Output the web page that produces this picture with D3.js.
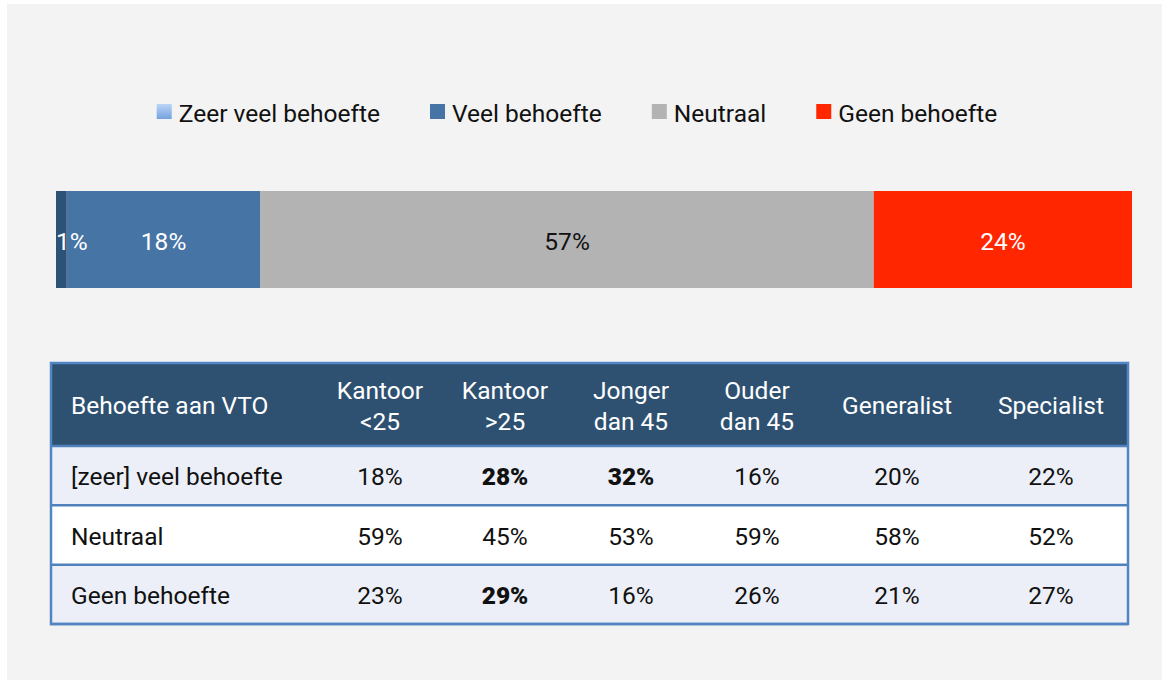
<!DOCTYPE html>
<html>
<head>
<meta charset="utf-8">
<script src="https://cdn.jsdelivr.net/npm/d3@7"></script>
<style>
  body { margin: 0; background: #fff; }
  svg text { font-family: Roboto, "Noto Sans", sans-serif; }
</style>
</head>
<body>
<div class="vtoChart"></div>
<script>
// categories for legend + stacked bar
const categories = ["Zeer veel behoefte", "Veel behoefte", "Neutraal", "Geen behoefte"];
const totals = [1, 18, 57, 24];

// table data
const columns = [["Kantoor", "<25"], ["Kantoor", ">25"], ["Jonger", "dan 45"], ["Ouder", "dan 45"], ["Generalist"], ["Specialist"]];
const rowLabels = ["[zeer] veel behoefte", "Neutraal", "Geen behoefte"];
const veelValues = [18, 28, 32, 16, 20, 22];
const neutraalValues = [59, 45, 53, 59, 58, 52];
const geenValues = [23, 29, 16, 26, 21, 27];
// [row, column] of the bold cells
const boldCells = [[0, 1], [0, 2], [2, 1]];

class VtoChart {

    constructor(selector) {
        this.selector = selector;
        this.width = 1162;
        this.height = 680;
    }

    draw() {
        this.svg = d3.select(this.selector)
            .append("svg")
            .attr("width", this.width)
            .attr("height", this.height);

        // grey panel
        this.svg.append("rect")
            .attr("x", 7).attr("y", 4)
            .attr("width", this.width - 7).attr("height", this.height - 4)
            .attr("fill", "#f3f3f3");

        this.drawLegend();
        this.drawBar();
        this.drawTable();
    }

    drawLegend() {
        const defs = this.svg.append("defs");
        const grad = defs.append("linearGradient")
            .attr("id", "zeerGrad")
            .attr("x1", 0).attr("y1", 0).attr("x2", 0).attr("y2", 1);
        grad.append("stop").attr("offset", "0%").attr("stop-color", "#bad4f6");
        grad.append("stop").attr("offset", "100%").attr("stop-color", "#74a3e0");

        const swatch = ["url(#zeerGrad)", "#4674a4", "#b3b3b3", "#ff2600"];
        const legend = this.svg.append("g");

        let xPos = 0;
        categories.forEach((c, i) => {
            const g = legend.append("g").attr("transform", `translate(${xPos},0)`);
            g.append("rect")
                .attr("x", 0).attr("y", 104)
                .attr("width", 15).attr("height", 15)
                .attr("fill", swatch[i]);
            const t = g.append("text")
                .attr("x", 22).attr("y", 113)
                .attr("dy", "0.36em")
                .attr("font-size", 24.5)
                .attr("fill", "#111")
                .text(c);
            xPos += 22 + t.node().getComputedTextLength() + 50;
        });
        const total = xPos - 50;
        legend.attr("transform", `translate(${577 - total / 2},0)`);
    }

    drawBar() {
        const x = d3.scaleLinear().domain([0, 100]).range([56, 1132]);
        const fills = ["#2e5276", "#4674a4", "#b3b3b3", "#ff2600"];
        const labelColors = ["#fff", "#fff", "#111", "#fff"];

        // cumulative starts
        const starts = [];
        let acc = 0;
        for (let v of totals) { starts.push(acc); acc += v; }

        const bar = this.svg.append("g");
        bar.selectAll("rect")
            .data(totals)
            .join("rect")
            .attr("x", (d, i) => x(starts[i]))
            .attr("y", 191)
            .attr("width", d => x(d) - x(0))
            .attr("height", 97)
            .attr("fill", (d, i) => fills[i]);

        bar.selectAll("text")
            .data(totals)
            .join("text")
            // tiny segment: excel pushes the label right
            .attr("x", (d, i) => d < 3 ? x(starts[i]) : x(starts[i] + d / 2))
            .attr("text-anchor", d => d < 3 ? "start" : "middle")
            .attr("y", 241)
            .attr("dy", "0.36em")
            .attr("font-size", 24.5)
            .attr("fill", (d, i) => labelColors[i])
            .text(d => d + "%");
    }

    drawTable() {
        const colWidths = [268, 124, 126, 126, 126, 154, 154];
        const edges = d3.cumsum([50].concat(colWidths));
        const colX = d3.scaleOrdinal()
            .domain(d3.range(colWidths.length))
            .range(colWidths.map((w, i) => edges[i] + w / 2));

        const left = edges[0], right = edges[edges.length - 1];
        const headTop = 363, headBottom = 446;
        const rowY = d3.scaleLinear().domain([0, rowLabels.length]).range([headBottom, 624]);
        const rows = [veelValues, neutraalValues, geenValues];
        const fs = 24.5;

        const table = this.svg.append("g");

        // header
        table.append("rect")
            .attr("x", left).attr("y", headTop)
            .attr("width", right - left).attr("height", headBottom - headTop)
            .attr("fill", "#2e5172");

        // body rows
        table.selectAll(".rowBg")
            .data(rowLabels)
            .join("rect")
            .attr("class", "rowBg")
            .attr("x", left).attr("y", (d, i) => rowY(i))
            .attr("width", right - left)
            .attr("height", (d, i) => rowY(i + 1) - rowY(i))
            .attr("fill", (d, i) => i % 2 === 0 ? "#eceff7" : "#ffffff");

        // row separators
        table.selectAll(".sep")
            .data(d3.range(rowLabels.length + 1))
            .join("line")
            .attr("class", "sep")
            .attr("x1", left).attr("x2", right)
            .attr("y1", d => rowY(d)).attr("y2", d => rowY(d))
            .attr("stroke", "#4f81bd")
            .attr("stroke-width", 2.5);

        // outer border
        table.append("rect")
            .attr("x", left + 1).attr("y", headTop)
            .attr("width", right - left - 1).attr("height", rowY(rowLabels.length) - headTop)
            .attr("fill", "none")
            .attr("stroke", "#5285c4")
            .attr("stroke-width", 2.5);

        // header text
        const headMid = (headTop + headBottom) / 2 + 1;
        table.append("text")
            .attr("x", 71).attr("y", headMid)
            .attr("dy", "0.36em")
            .attr("font-size", fs)
            .attr("fill", "#fff")
            .text("Behoefte aan VTO");

        columns.forEach((lines, c) => {
            const t = table.append("text")
                .attr("text-anchor", "middle")
                .attr("font-size", fs)
                .attr("fill", "#fff");
            lines.forEach((line, j) => {
                const offset = (j - (lines.length - 1) / 2) * 31;
                t.append("tspan")
                    .attr("x", colX(c + 1))
                    .attr("y", headMid + offset)
                    .attr("dy", "0.36em")
                    .text(line);
            });
        });

        // body text
        rowLabels.forEach((label, r) => {
            const mid = (rowY(r) + rowY(r + 1)) / 2 + 1;
            table.append("text")
                .attr("x", 71).attr("y", mid)
                .attr("dy", "0.36em")
                .attr("font-size", fs)
                .attr("fill", "#111")
                .text(label);

            table.selectAll(".cell" + r)
                .data(rows[r])
                .join("text")
                .attr("class", "cell" + r)
                .attr("x", (d, c) => colX(c + 1))
                .attr("y", mid)
                .attr("dy", "0.36em")
                .attr("text-anchor", "middle")
                .attr("font-size", fs)
                .attr("font-weight", (d, c) => boldCells.some(b => b[0] === r && b[1] === c) ? 900 : 400)
                .attr("fill", "#111")
                .text(d => d + "%");
        });
    }
}

const chart = new VtoChart(".vtoChart");
chart.draw();
</script>
</body>
</html>
